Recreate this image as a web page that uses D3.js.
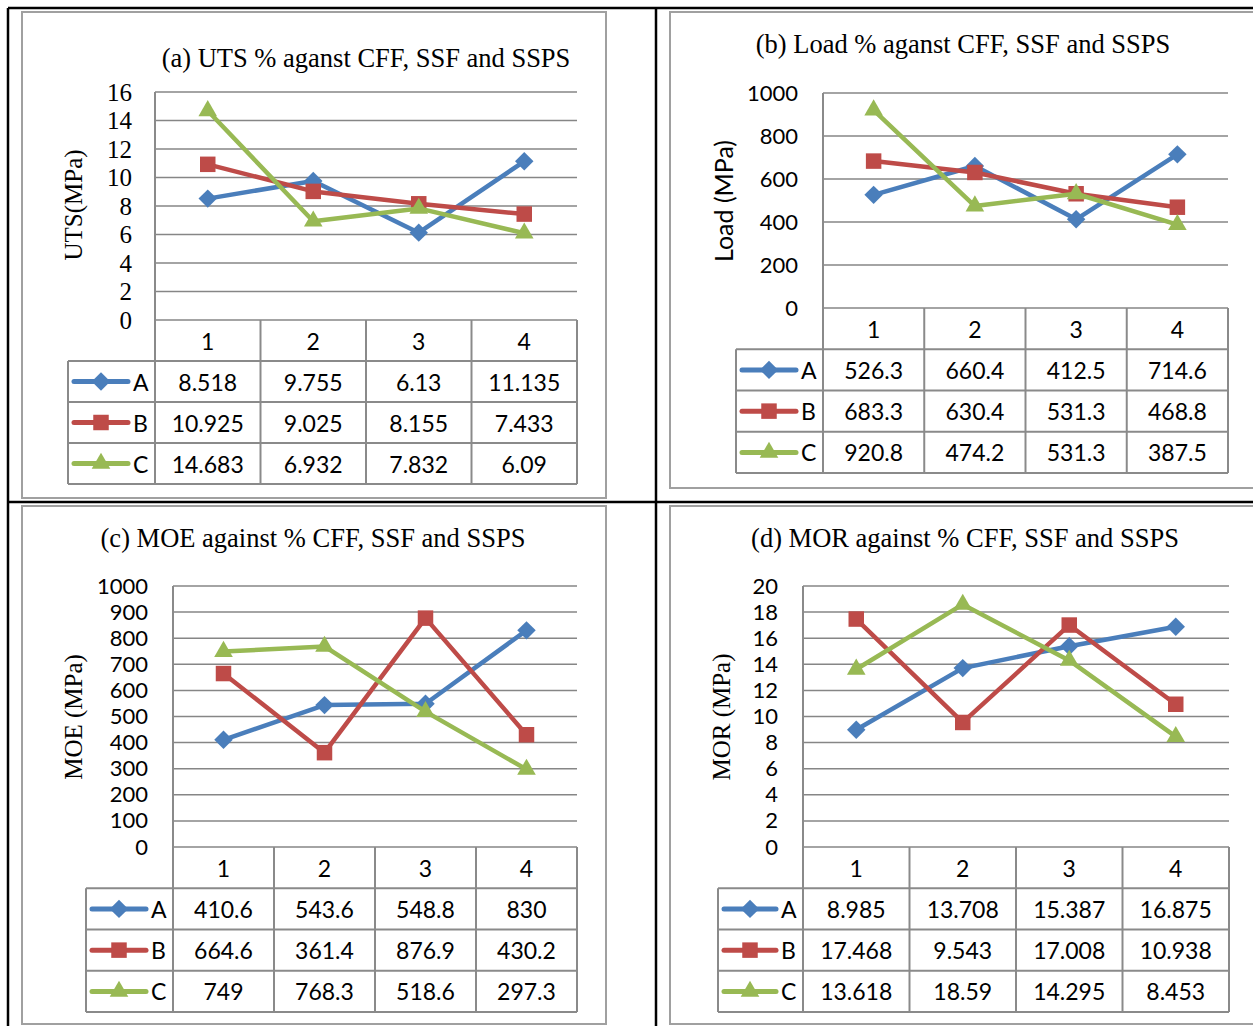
<!DOCTYPE html>
<html>
<head>
<meta charset="utf-8">
<script src="https://cdn.jsdelivr.net/npm/d3@7"></script>
<style>
  body { margin: 0; background: #fff; }
  svg { display: block; }
</style>
</head>
<body>
<div id="chart"></div>
<script>
const categories = ["1", "2", "3", "4"];
const seriesNames = ["A", "B", "C"];
const seriesColors = ["#4a7ebb", "#be4b48", "#98b954"];

const utsA = [8.518, 9.755, 6.13, 11.135];
const utsB = [10.925, 9.025, 8.155, 7.433];
const utsC = [14.683, 6.932, 7.832, 6.09];
const utsTicks = [0, 2, 4, 6, 8, 10, 12, 14, 16];

const loadA = [526.3, 660.4, 412.5, 714.6];
const loadB = [683.3, 630.4, 531.3, 468.8];
const loadC = [920.8, 474.2, 531.3, 387.5];
const loadTicks = [0, 200, 400, 600, 800, 1000];

const moeA = [410.6, 543.6, 548.8, 830];
const moeB = [664.6, 361.4, 876.9, 430.2];
const moeC = [749, 768.3, 518.6, 297.3];
const moeTicks = [0, 100, 200, 300, 400, 500, 600, 700, 800, 900, 1000];

const morA = [8.985, 13.708, 15.387, 16.875];
const morB = [17.468, 9.543, 17.008, 10.938];
const morC = [13.618, 18.59, 14.295, 8.453];
const morTicks = [0, 2, 4, 6, 8, 10, 12, 14, 16, 18, 20];

const SERIF = "'Liberation Serif', 'Times New Roman', serif";
const SANS = "Lato, 'Open Sans', sans-serif";

const width = 1253;
const height = 1026;

const svg = d3.select("#chart")
  .append("svg")
  .attr("width", width)
  .attr("height", height);

// layout of the four panels
const panels = [
  {
    title: "(a) UTS % aganst CFF, SSF and SSPS", titleX: 366, titleY: 67,
    yLabel: "UTS(MPa)", yLabelX: 73, yLabelY: 205, yLabelFont: SERIF,
    tickFont: SERIF, tickSize: 25, tickRight: 132,
    box: [22, 12, 584, 486],
    left: 155, right: 577, top: 92, bottom: 320, rowH: 41, legendLeft: 68,
    series: [utsA, utsB, utsC], ticks: utsTicks
  },
  {
    title: "(b) Load % aganst CFF, SSF and SSPS", titleX: 963, titleY: 53,
    yLabel: "Load (MPa)", yLabelX: 723, yLabelY: 201, yLabelFont: SANS,
    tickFont: SANS, tickSize: 22, tickRight: 798,
    box: [670, 12, 620, 476],
    left: 823, right: 1228, top: 93, bottom: 308, rowH: 41.25, legendLeft: 736,
    series: [loadA, loadB, loadC], ticks: loadTicks
  },
  {
    title: "(c) MOE against % CFF, SSF and SSPS", titleX: 313, titleY: 547,
    yLabel: "MOE (MPa)", yLabelX: 73, yLabelY: 717, yLabelFont: SERIF,
    tickFont: SANS, tickSize: 22, tickRight: 148,
    box: [22, 506, 584, 518],
    left: 173, right: 577, top: 586, bottom: 847, rowH: 41.25, legendLeft: 86,
    series: [moeA, moeB, moeC], ticks: moeTicks
  },
  {
    title: "(d) MOR against % CFF, SSF and SSPS", titleX: 965, titleY: 547,
    yLabel: "MOR (MPa)", yLabelX: 721, yLabelY: 717, yLabelFont: SERIF,
    tickFont: SANS, tickSize: 22, tickRight: 778,
    box: [670, 506, 620, 518],
    left: 803, right: 1229, top: 586, bottom: 847, rowH: 41.25, legendLeft: 718,
    series: [morA, morB, morC], ticks: morTicks
  }
];

function markerPath(i) {
  if (i === 0) return d3.symbol(d3.symbolSquare, 170)();
  if (i === 1) return d3.symbol(d3.symbolSquare, 240)();
  return d3.symbol(d3.symbolTriangle, 150)();
}
function markerRotate(i) {
  return i === 0 ? " rotate(45)" : "";
}

function drawPanel(p) {
  const g = svg.append("g");
  const gridColor = "#868686";
  const tableColor = "#8a8a8a";

  g.append("rect")
    .attr("x", p.box[0]).attr("y", p.box[1])
    .attr("width", p.box[2]).attr("height", p.box[3])
    .attr("fill", "none")
    .attr("stroke", "#a0a0a0")
    .attr("stroke-width", 2);

  g.append("text")
    .attr("x", p.titleX).attr("y", p.titleY)
    .attr("text-anchor", "middle")
    .attr("font-family", SERIF)
    .attr("font-size", 26.5)
    .text(p.title);

  const x = d3.scaleBand().domain(categories).range([p.left, p.right]);
  const y = d3.scaleLinear().domain([0, d3.max(p.ticks)]).range([p.bottom, p.top]);
  const cx = i => x(categories[i]) + x.bandwidth() / 2;

  // gridlines
  g.append("g")
    .selectAll("line")
    .data(p.ticks)
    .join("line")
    .attr("x1", p.left).attr("x2", p.right)
    .attr("y1", d => y(d)).attr("y2", d => y(d))
    .attr("stroke", gridColor)
    .attr("stroke-width", 1.5);

  const axis = g.append("g")
    .attr("transform", `translate(${p.tickRight},0)`)
    .call(d3.axisLeft(y).tickValues(p.ticks).tickSize(0).tickPadding(0).tickFormat(d => String(d)));
  axis.select(".domain").remove();
  axis.selectAll("text")
    .attr("font-family", p.tickFont)
    .attr("font-size", p.tickSize)
    .attr("fill", "#000");

  g.append("text")
    .attr("transform", `translate(${p.yLabelX},${p.yLabelY}) rotate(-90)`)
    .attr("text-anchor", "middle")
    .attr("dominant-baseline", "central")
    .attr("font-family", p.yLabelFont)
    .attr("font-size", 25)
    .text(p.yLabel);

  // data table
  const tableBottom = p.bottom + 4 * p.rowH;
  const t = g.append("g")
    .attr("stroke", tableColor)
    .attr("stroke-width", 2);
  t.append("line")
    .attr("x1", p.left).attr("x2", p.left)
    .attr("y1", p.top).attr("y2", tableBottom);
  t.selectAll("line.col")
    .data(categories)
    .join("line")
    .attr("class", "col")
    .attr("x1", d => x(d) + x.bandwidth()).attr("x2", d => x(d) + x.bandwidth())
    .attr("y1", p.bottom).attr("y2", tableBottom);
  t.append("line")
    .attr("x1", p.legendLeft).attr("x2", p.legendLeft)
    .attr("y1", p.bottom + p.rowH).attr("y2", tableBottom);
  t.selectAll("line.row")
    .data([1, 2, 3, 4])
    .join("line")
    .attr("class", "row")
    .attr("x1", p.legendLeft).attr("x2", p.right)
    .attr("y1", k => p.bottom + k * p.rowH).attr("y2", k => p.bottom + k * p.rowH);

  g.append("g")
    .selectAll("text")
    .data(categories)
    .join("text")
    .attr("x", d => x(d) + x.bandwidth() / 2)
    .attr("y", p.bottom + p.rowH / 2)
    .attr("text-anchor", "middle")
    .attr("dominant-baseline", "central")
    .attr("font-family", SANS)
    .attr("font-size", 23)
    .text(d => d);

  p.series.forEach((vals, si) => {
    const rowY = p.bottom + (si + 1) * p.rowH + p.rowH / 2;
    g.append("g")
      .selectAll("text")
      .data(vals)
      .join("text")
      .attr("x", (d, i) => cx(i))
      .attr("y", rowY)
      .attr("text-anchor", "middle")
      .attr("dominant-baseline", "central")
      .attr("font-family", SANS)
      .attr("font-size", 23)
      .text(d => String(d));

    // legend key
    const lx1 = p.legendLeft + 6;
    const lx2 = p.left - 27;
    g.append("line")
      .attr("x1", lx1).attr("x2", lx2)
      .attr("y1", rowY).attr("y2", rowY)
      .attr("stroke", seriesColors[si])
      .attr("stroke-width", 5)
      .attr("stroke-linecap", "round");
    g.append("path")
      .attr("d", markerPath(si))
      .attr("transform", `translate(${(lx1 + lx2) / 2},${rowY})${markerRotate(si)}`)
      .attr("fill", seriesColors[si]);
    g.append("text")
      .attr("x", p.left - 22)
      .attr("y", rowY)
      .attr("dominant-baseline", "central")
      .attr("font-family", SANS)
      .attr("font-size", 23)
      .text(seriesNames[si]);
  });

  // lines and markers
  const line = d3.line().x((d, i) => cx(i)).y(d => y(d));
  p.series.forEach((vals, si) => {
    g.append("path")
      .datum(vals)
      .attr("d", line)
      .attr("fill", "none")
      .attr("stroke", seriesColors[si])
      .attr("stroke-width", 4.5)
      .attr("stroke-linejoin", "round");
    g.append("g")
      .selectAll("path")
      .data(vals)
      .join("path")
      .attr("d", markerPath(si))
      .attr("transform", (d, i) => `translate(${cx(i)},${y(d)})${markerRotate(si)}`)
      .attr("fill", seriesColors[si]);
  });
}

panels.forEach(drawPanel);

// outer page table lines
const frame = svg.append("g")
  .attr("stroke", "#000")
  .attr("stroke-width", 2.5);
frame.append("line").attr("x1", 8).attr("x2", 8).attr("y1", 8).attr("y2", height);
frame.append("line").attr("x1", 656).attr("x2", 656).attr("y1", 8).attr("y2", height);
frame.append("line").attr("x1", 8).attr("x2", width).attr("y1", 8).attr("y2", 8);
frame.append("line").attr("x1", 8).attr("x2", width).attr("y1", 502).attr("y2", 502);
</script>
</body>
</html>
